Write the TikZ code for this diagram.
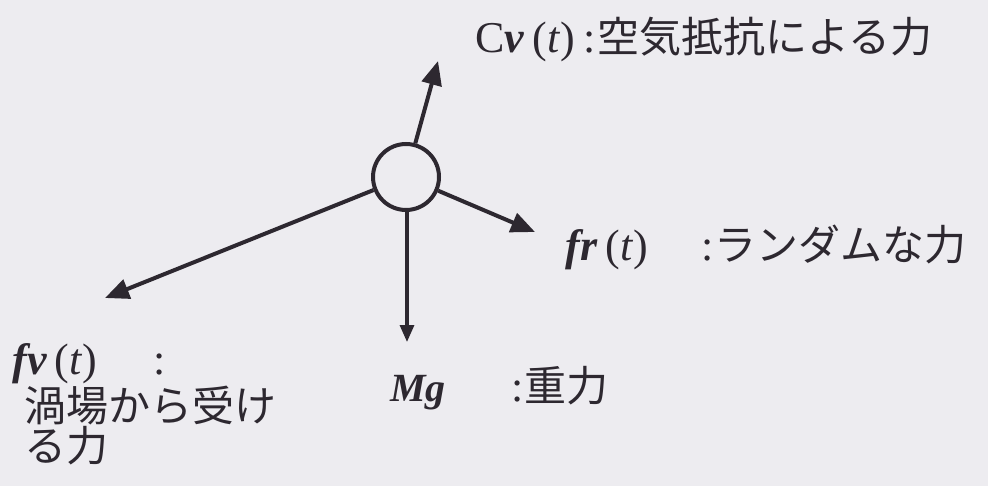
\documentclass[tikz,border=0pt]{standalone}
\usepackage{fontspec}
\setmainfont{Liberation Serif}
\newfontfamily\jp{Noto Sans CJK JP}
\usepackage{tikz}
\usetikzlibrary{arrows.meta, positioning}
\definecolor{ink}{RGB}{45,40,48}
\definecolor{paper}{RGB}{237,236,240}
\newcommand{\jpt}[1]{{\jp\fontsize{21pt}{22pt}\selectfont #1}}

\begin{document}
\begin{tikzpicture}[
    x=0.5pt, y=-0.5pt,
    font=\fontsize{22pt}{22pt}\selectfont,
    % node styles
    ball/.style={circle, draw=ink, line width=2pt, minimum size=33pt, inner sep=0pt},
    lbl/.style={anchor=west, inner sep=0pt, text=ink, align=left},
    % arrow styles
    force/.style={-{Triangle[length=12pt, width=10pt]}, line width=2pt, draw=ink},
    thinforce/.style={-{Triangle[length=8.5pt, width=7pt]}, line width=1.6pt, draw=ink}
]

% background and margins
\fill[paper] (0,0) rectangle (988,486);
\useasboundingbox (0,0) rectangle (988,486);

% the particle
\node[ball] (ball) at (406,177) {};

% arrow tips
\coordinate (tipup) at (438,61);
\coordinate (tipright) at (535,232);
\coordinate (tipdown) at (407,342);
\coordinate (tipleft) at (105,298);

% forces
\draw[force] (ball) -- (tipup);
\draw[force] (ball) -- (tipright);
\draw[thinforce] (ball.south -| tipdown) -- (tipdown);
\draw[force] (ball) -- (tipleft);

% labels
\node[lbl] (air) at (475,40) {C\textbf{\textit{v}}\hspace{4pt}(\textit{t})\hspace{4pt}:\hspace{1pt}\jpt{空気抵抗による力}};
\node[lbl] (rand) at (565,247) {\textbf{\textit{fr}}\hspace{4pt}(\textit{t})\hspace{27pt}:\jpt{ランダムな力}};
\node[lbl] (grav) at (390,388) {{\fontsize{20pt}{22pt}\selectfont\textbf{\textit{Mg}}}\hspace{33pt}:\jpt{重力}};
\node[lbl, anchor=north west] (vort) at (12,343) {\textbf{\textit{fv}}\hspace{4pt}(\textit{t})\hspace{28pt}:\\[0pt]
  \hspace{6pt}\jpt{渦場から受け}\\[-2pt]
  \hspace{6pt}\jpt{る力}};

\end{tikzpicture}
\end{document}
